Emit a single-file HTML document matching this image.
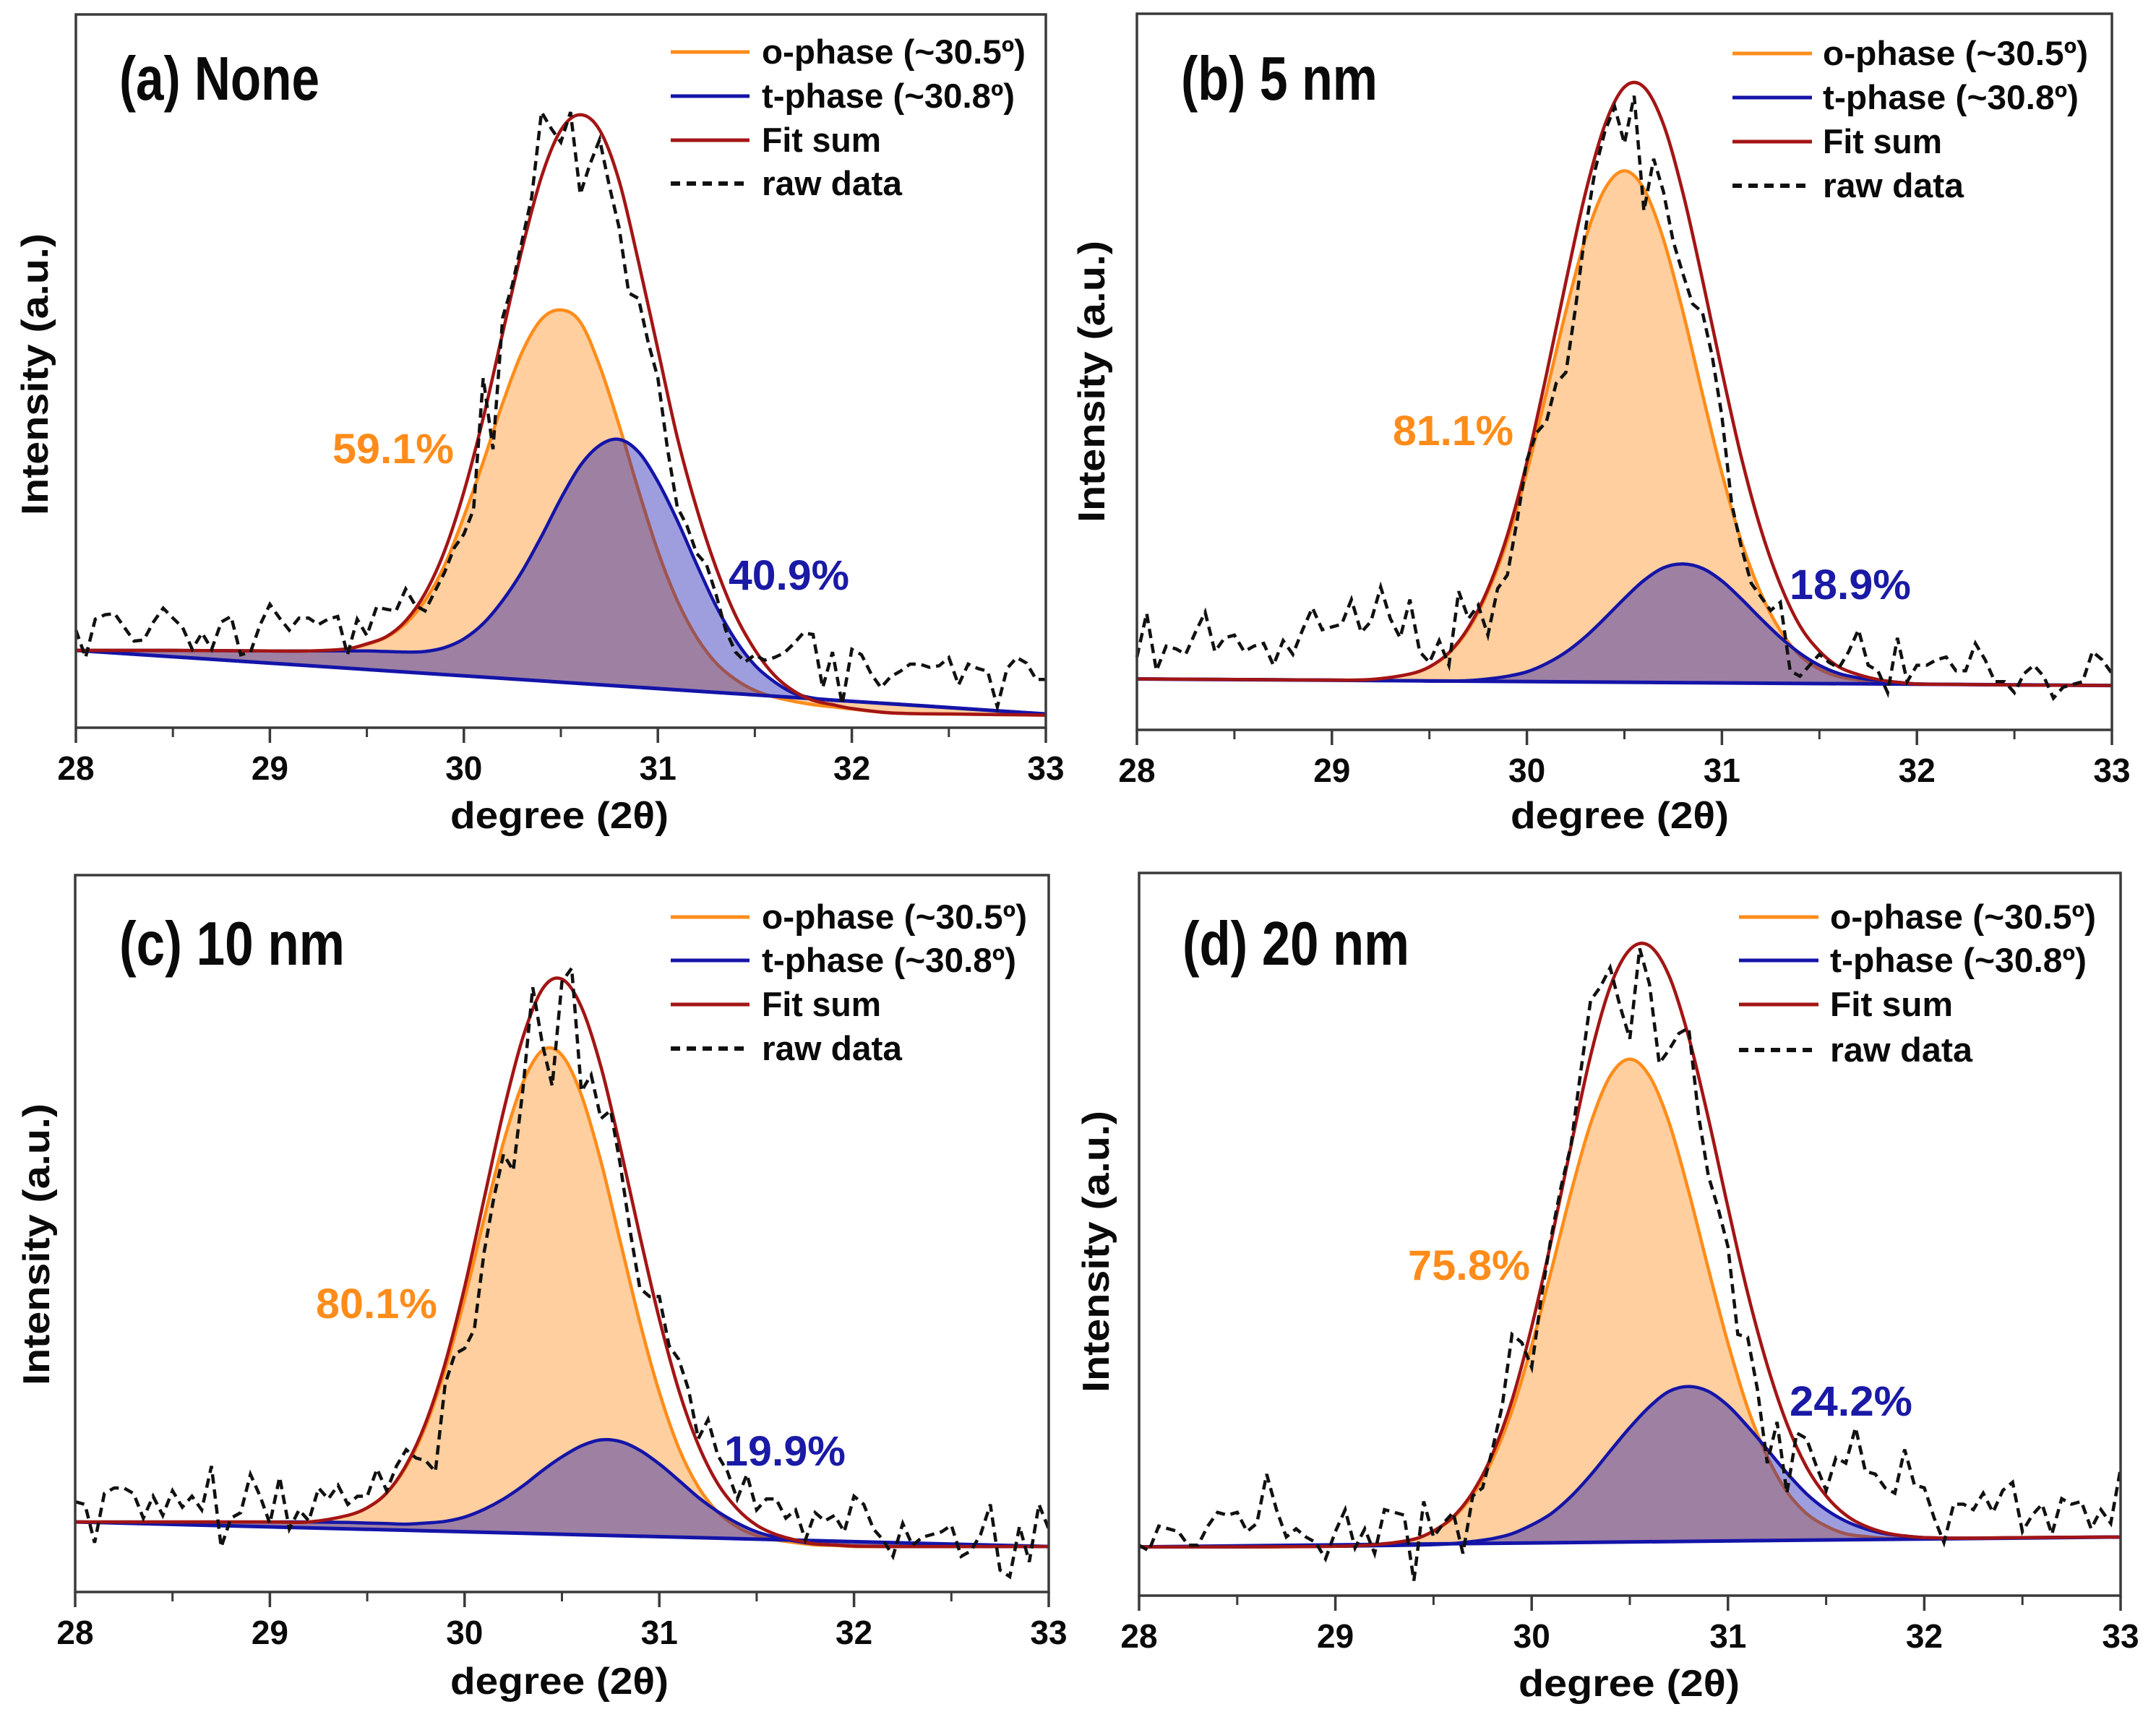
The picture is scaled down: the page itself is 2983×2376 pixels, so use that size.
<!DOCTYPE html>
<html lang="en">
<head>
<meta charset="utf-8">
<title>XRD peak deconvolution panels</title>
<style>
html,body{margin:0;padding:0;background:#fff;}
svg{display:block;}
text{font-family:"Liberation Sans","DejaVu Sans",sans-serif;fill:#0a0a0a;}
.leg{font-size:47px;font-weight:bold;}
.tit{font-size:52px;font-weight:bold;}
.pan{font-size:85px;font-weight:bold;}
.pct{font-size:58px;font-weight:bold;}
.o{fill:#ff8c1a;}
.t{fill:#1a1aa6;}
.tick{font-size:46px;font-weight:bold;text-anchor:middle;}
.lo{stroke:#ff8c1a;stroke-width:5;}
.lt{stroke:#1414a8;stroke-width:5;}
.ls{stroke:#a31515;stroke-width:5;}
.lr{stroke:#111;stroke-width:6;stroke-dasharray:13 9;}
</style>
</head>
<body>
<svg id="figure" xmlns="http://www.w3.org/2000/svg" width="2983" height="2376" viewBox="0 0 2983 2376">
<rect x="0" y="0" width="2983" height="2376" fill="#fff"/>

<g id="panel-a"></g>
<g id="panel-b"></g>
<g id="panel-c"></g>
<g id="panel-d"></g>

<g>
<text class="pan" x="165" y="138" textLength="277" lengthAdjust="spacingAndGlyphs">(a) None</text>
<text class="pct o" x="460" y="641" textLength="168" lengthAdjust="spacingAndGlyphs">59.1%</text>
<text class="pct t" x="1008" y="816" textLength="167" lengthAdjust="spacingAndGlyphs">40.9%</text>
<text class="tit" x="774" y="1146" text-anchor="middle" textLength="302" lengthAdjust="spacingAndGlyphs">degree (2θ)</text>
<text class="tit" transform="translate(66,518) rotate(-90)" text-anchor="middle" textLength="390" lengthAdjust="spacingAndGlyphs">Intensity (a.u.)</text>
<g>
<line class="lo" x1="928" y1="72" x2="1037" y2="72"/>
<line class="lt" x1="928" y1="133" x2="1037" y2="133"/>
<line class="ls" x1="928" y1="194" x2="1037" y2="194"/>
<line class="lr" x1="928" y1="254" x2="1030" y2="254"/>
<text class="leg" x="1054" y="88" textLength="365" lengthAdjust="spacingAndGlyphs">o-phase (~30.5º)</text>
<text class="leg" x="1054" y="149" textLength="350" lengthAdjust="spacingAndGlyphs">t-phase (~30.8º)</text>
<text class="leg" x="1054" y="210" textLength="165" lengthAdjust="spacingAndGlyphs">Fit sum</text>
<text class="leg" x="1054" y="270" textLength="194" lengthAdjust="spacingAndGlyphs">raw data</text>
</g>
</g>

<g>
<text class="pan" x="1634" y="138" textLength="272" lengthAdjust="spacingAndGlyphs">(b) 5 nm</text>
<text class="pct o" x="1927" y="616" textLength="167" lengthAdjust="spacingAndGlyphs">81.1%</text>
<text class="pct t" x="2476" y="829" textLength="168" lengthAdjust="spacingAndGlyphs">18.9%</text>
<text class="tit" x="2241" y="1146" text-anchor="middle" textLength="302" lengthAdjust="spacingAndGlyphs">degree (2θ)</text>
<text class="tit" transform="translate(1528,528) rotate(-90)" text-anchor="middle" textLength="390" lengthAdjust="spacingAndGlyphs">Intensity (a.u.)</text>
<g>
<line class="lo" x1="2397" y1="74" x2="2507" y2="74"/>
<line class="lt" x1="2397" y1="135" x2="2507" y2="135"/>
<line class="ls" x1="2397" y1="196" x2="2507" y2="196"/>
<line class="lr" x1="2397" y1="257" x2="2499" y2="257"/>
<text class="leg" x="2522" y="90" textLength="367" lengthAdjust="spacingAndGlyphs">o-phase (~30.5º)</text>
<text class="leg" x="2522" y="151" textLength="354" lengthAdjust="spacingAndGlyphs">t-phase (~30.8º)</text>
<text class="leg" x="2522" y="212" textLength="165" lengthAdjust="spacingAndGlyphs">Fit sum</text>
<text class="leg" x="2522" y="273" textLength="195" lengthAdjust="spacingAndGlyphs">raw data</text>
</g>
</g>

<g>
<text class="pan" x="165" y="1335" textLength="312" lengthAdjust="spacingAndGlyphs">(c) 10 nm</text>
<text class="pct o" x="437" y="1824" textLength="168" lengthAdjust="spacingAndGlyphs">80.1%</text>
<text class="pct t" x="1002" y="2028" textLength="168" lengthAdjust="spacingAndGlyphs">19.9%</text>
<text class="tit" x="774" y="2344" text-anchor="middle" textLength="302" lengthAdjust="spacingAndGlyphs">degree (2θ)</text>
<text class="tit" transform="translate(68,1722) rotate(-90)" text-anchor="middle" textLength="390" lengthAdjust="spacingAndGlyphs">Intensity (a.u.)</text>
<g>
<line class="lo" x1="928" y1="1269" x2="1037" y2="1269"/>
<line class="lt" x1="928" y1="1329" x2="1037" y2="1329"/>
<line class="ls" x1="928" y1="1390" x2="1037" y2="1390"/>
<line class="lr" x1="928" y1="1451" x2="1030" y2="1451"/>
<text class="leg" x="1054" y="1285" textLength="367" lengthAdjust="spacingAndGlyphs">o-phase (~30.5º)</text>
<text class="leg" x="1054" y="1345" textLength="352" lengthAdjust="spacingAndGlyphs">t-phase (~30.8º)</text>
<text class="leg" x="1054" y="1406" textLength="165" lengthAdjust="spacingAndGlyphs">Fit sum</text>
<text class="leg" x="1054" y="1467" textLength="194" lengthAdjust="spacingAndGlyphs">raw data</text>
</g>
</g>

<g>
<text class="pan" x="1636" y="1335" textLength="314" lengthAdjust="spacingAndGlyphs">(d) 20 nm</text>
<text class="pct o" x="1948" y="1771" textLength="169" lengthAdjust="spacingAndGlyphs">75.8%</text>
<text class="pct t" x="2476" y="1959" textLength="170" lengthAdjust="spacingAndGlyphs">24.2%</text>
<text class="tit" x="2254" y="2347" text-anchor="middle" textLength="306" lengthAdjust="spacingAndGlyphs">degree (2θ)</text>
<text class="tit" transform="translate(1534,1732) rotate(-90)" text-anchor="middle" textLength="390" lengthAdjust="spacingAndGlyphs">Intensity (a.u.)</text>
<g>
<line class="lo" x1="2406" y1="1269" x2="2516" y2="1269"/>
<line class="lt" x1="2406" y1="1329" x2="2516" y2="1329"/>
<line class="ls" x1="2406" y1="1390" x2="2516" y2="1390"/>
<line class="lr" x1="2406" y1="1453" x2="2508" y2="1453"/>
<text class="leg" x="2532" y="1285" textLength="368" lengthAdjust="spacingAndGlyphs">o-phase (~30.5º)</text>
<text class="leg" x="2532" y="1345" textLength="355" lengthAdjust="spacingAndGlyphs">t-phase (~30.8º)</text>
<text class="leg" x="2532" y="1406" textLength="170" lengthAdjust="spacingAndGlyphs">Fit sum</text>
<text class="leg" x="2532" y="1469" textLength="197" lengthAdjust="spacingAndGlyphs">raw data</text>
</g>
</g>
</svg>

<script>
// Shared axis data
var xTickLabels = [28, 29, 30, 31, 32, 33];
var xMinorTicks = [28.5, 29.5, 30.5, 31.5, 32.5];
var curveDegrees = [28,28.5,29,29.2,29.4,29.5,29.6,29.7,29.8,29.9,30,30.1,30.2,30.3,30.4,30.5,30.6,30.7,30.8,30.9,31,31.1,31.2,31.3,31.4,31.5,31.6,31.7,31.8,31.9,32,32.2,32.5,33];
var rawDegrees = [28,28.05,28.1,28.15,28.2,28.25,28.3,28.35,28.4,28.45,28.5,28.55,28.6,28.65,28.7,28.75,28.8,28.85,28.9,28.95,29,29.05,29.1,29.15,29.2,29.25,29.3,29.35,29.4,29.45,29.5,29.55,29.6,29.65,29.7,29.75,29.8,29.85,29.9,29.95,30,30.05,30.1,30.15,30.2,30.25,30.3,30.35,30.4,30.45,30.5,30.55,30.6,30.65,30.7,30.75,30.8,30.85,30.9,30.95,31,31.05,31.1,31.15,31.2,31.25,31.3,31.35,31.4,31.45,31.5,31.55,31.6,31.65,31.7,31.75,31.8,31.85,31.9,31.95,32,32.05,32.1,32.15,32.2,32.25,32.3,32.35,32.4,32.45,32.5,32.55,32.6,32.65,32.7,32.75,32.8,32.85,32.9,32.95,33];
var baselineDegrees = [28, 33];

// Panel (a) None
var aOPhase = [141,141,140,140,144,152,165,190,232,296,385,485,592,685,745,762,740,660,552,433,322,232,165,118,88,68,56,48,42,38,34,27,25,23];
var aTPhase = [141,141,140,140,140,140,139,138,139,146,162,190,232,285,349,418,478,515,526,503,449,378,298,222,160,114,84,63,54,50,48,44,37,25];
var aFitSum = [141,141,140,140,144,153,166,195,245,322,430,565,720,873,1005,1090,1118,1090,998,850,690,530,400,292,205,142,96,67,50,42,35,27,25,23];
var aBaseline = [141, 25];
var aRaw = [178,128,198,206,208,183,158,160,193,218,200,183,143,173,143,193,203,133,138,188,225,200,178,200,200,188,198,203,133,198,168,220,216,213,253,223,213,248,283,328,353,398,638,508,748,808,888,968,1123,1093,1068,1123,973,1028,1073,988,913,793,783,703,638,508,403,368,318,298,243,178,138,120,133,123,128,136,153,173,170,73,138,43,143,133,98,73,93,103,116,116,110,113,128,78,116,108,103,38,108,128,118,88,88];

// Panel (b) 5 nm
var bOPhase = [93,92,91,92,102,115,140,184,252,346,471,616,765,897,988,1021,988,896,764,614,469,344,249,181,136,111,97,91,86,84,83,83,82,81];
var bTPhase = [93,92,91,90,90,89,89,90,93,98,106,121,142,170,204,240,273,296,303,295,272,239,203,169,140,118,103,95,90,87,84,83,82,81];
var bFitSum = [93,92,91,92,102,115,141,187,257,356,489,649,819,980,1105,1174,1174,1106,981,823,655,497,366,265,190,144,115,101,92,87,84,83,82,81];
var bBaseline = [93, 81];
var bRaw = [133,213,108,153,148,138,178,215,143,168,173,143,153,158,118,163,138,183,223,183,188,193,238,178,198,261,203,168,238,143,123,163,118,253,203,228,173,258,283,383,493,543,563,633,653,773,913,1023,1093,1138,1071,1158,948,1043,983,893,833,778,763,683,573,413,333,268,243,218,233,108,98,118,138,123,113,143,183,118,108,68,168,88,118,118,128,133,108,108,158,128,88,88,68,103,118,98,58,78,83,88,143,128,103];

// Panel (c) 10 nm
var cOPhase = [128,128,128,128,140,154,181,229,303,407,536,682,822,931,990,981,908,787,640,493,365,263,192,146,119,103,95,90,86,85,83,83,83,83];
var cTPhase = [128,128,128,128,127,126,125,124,126,129,137,151,170,194,222,247,267,278,275,259,234,204,173,147,126,110,100,93,88,86,84,83,83,83];
var cFitSum = [128,128,128,128,140,154,181,232,309,418,557,718,879,1014,1102,1120,1069,960,812,651,499,369,269,198,152,122,105,95,88,86,84,83,83,83];
var cBaseline = [128, 83];
var cRaw = [165,160,90,180,190,190,180,135,175,140,185,155,175,150,230,82,135,145,215,175,125,210,115,150,130,190,170,195,160,175,175,225,185,230,260,245,240,220,380,435,445,480,620,720,800,770,920,1105,1000,925,1115,1140,915,945,865,880,780,660,555,540,540,450,425,370,280,315,250,220,170,215,150,170,170,135,150,95,145,130,140,110,175,160,115,95,65,125,85,100,105,110,122,65,75,105,160,40,28,120,55,160,115];

// Panel (d) 20 nm
var dOPhase = [89,89,90,93,103,118,142,184,248,338,457,594,736,862,949,980,949,864,738,597,461,343,254,190,150,127,113,108,105,104,104,105,106,107];
var dTPhase = [89,89,90,91,92,93,95,99,104,113,129,150,181,220,264,307,345,373,382,373,347,309,267,224,186,157,136,122,113,109,106,105,106,107];
var dFitSum = [89,89,90,93,103,118,144,189,258,357,491,649,821,986,1112,1180,1187,1132,1020,872,709,553,421,314,235,182,147,127,115,109,106,105,106,107];
var dBaseline = [89, 107];
var dRaw = [92,82,127,122,117,92,92,127,152,147,152,117,132,222,157,107,122,107,97,67,117,157,87,122,77,157,152,147,27,172,107,132,152,77,182,197,267,347,477,462,417,547,657,747,822,957,1087,1112,1147,1077,1017,1182,1117,972,997,1027,1037,877,767,707,637,477,472,377,242,317,187,297,287,237,192,252,242,307,227,222,197,187,267,202,197,142,97,167,167,157,187,152,192,207,117,147,167,112,177,167,172,122,157,132,232];

var NS = 'http://www.w3.org/2000/svg';
var X_MIN = 28, X_MAX = 33;

function mk(parent, tag) {
  var el = document.createElementNS(NS, tag);
  parent.appendChild(el);
  return el;
}

function hermite(xs, ys) {
  var n = xs.length, d = 'M' + xs[0].toFixed(1) + ' ' + ys[0].toFixed(1);
  function slope(i) {
    if (i === 0) return (ys[1] - ys[0]) / (xs[1] - xs[0]);
    if (i === n - 1) return (ys[n - 1] - ys[n - 2]) / (xs[n - 1] - xs[n - 2]);
    return (ys[i + 1] - ys[i - 1]) / (xs[i + 1] - xs[i - 1]);
  }
  for (var i = 0; i < n - 1; i++) {
    var h = (xs[i + 1] - xs[i]) / 3;
    d += 'C' + (xs[i] + h).toFixed(1) + ' ' + (ys[i] + slope(i) * h).toFixed(1) + ' ' +
         (xs[i + 1] - h).toFixed(1) + ' ' + (ys[i + 1] - slope(i + 1) * h).toFixed(1) + ' ' +
         xs[i + 1].toFixed(1) + ' ' + ys[i + 1].toFixed(1);
  }
  return d;
}

function drawPanel(id, box, oPhase, tPhase, fitSum, baseline, raw) {
  var g = document.getElementById(id);
  var sx = function (deg) { return box.left + (deg - X_MIN) / (X_MAX - X_MIN) * (box.right - box.left); };
  var sy = function (v) { return box.bottom - v / box.yMax * (box.bottom - box.top); };
  var cx = curveDegrees.map(sx);
  var baseAt = function (deg) {
    var t = (deg - baselineDegrees[0]) / (baselineDegrees[1] - baselineDegrees[0]);
    return baseline[0] + t * (baseline[1] - baseline[0]);
  };
  var closeToBase = 'L' + sx(X_MAX) + ' ' + sy(baseAt(X_MAX)) + 'L' + sx(X_MIN) + ' ' + sy(baseAt(X_MIN)) + 'Z';

  var oPath = hermite(cx, oPhase.map(sy));
  var tPath = hermite(cx, tPhase.map(sy));
  var sPath = hermite(cx, fitSum.map(sy));

  var oFill = mk(g, 'path');
  
  
  oFill.setAttribute('d', oPath + closeToBase);
  oFill.setAttribute('fill', '#ffcf9f');

  var oLine = mk(g, 'path');
  
  
  oLine.setAttribute('d', oPath);
  oLine.setAttribute('fill', 'none');
  oLine.setAttribute('stroke', '#ff8c1a');
  oLine.setAttribute('stroke-width', '4.5');

  var tFill = mk(g, 'path');
  
  
  tFill.setAttribute('d', tPath + closeToBase);
  tFill.setAttribute('fill', '#0000aa');
  tFill.setAttribute('fill-opacity', '0.38');

  var tLine = mk(g, 'path');
  
  
  tLine.setAttribute('d', tPath);
  tLine.setAttribute('fill', 'none');
  tLine.setAttribute('stroke', '#1414a8');
  tLine.setAttribute('stroke-width', '4.5');

  var base = mk(g, 'line');
  
  
  base.setAttribute('x1', sx(baselineDegrees[0]));
  base.setAttribute('y1', sy(baseline[0]));
  base.setAttribute('x2', sx(baselineDegrees[1]));
  base.setAttribute('y2', sy(baseline[1]));
  base.setAttribute('stroke', '#1414a8');
  base.setAttribute('stroke-width', '5');

  var sLine = mk(g, 'path');
  
  
  sLine.setAttribute('d', sPath);
  sLine.setAttribute('fill', 'none');
  sLine.setAttribute('stroke', '#a31515');
  sLine.setAttribute('stroke-width', '4.5');

  var rawLine = mk(g, 'polyline');
  
  
  rawLine.setAttribute('points', raw.map(function (v, i) { return sx(rawDegrees[i]).toFixed(1) + ',' + sy(v).toFixed(1); }).join(' '));
  rawLine.setAttribute('fill', 'none');
  rawLine.setAttribute('stroke', '#111');
  rawLine.setAttribute('stroke-width', '4.5');
  rawLine.setAttribute('stroke-dasharray', '13 8');

  var frame = mk(g, 'rect');
  
  
  frame.setAttribute('x', box.left);
  frame.setAttribute('y', box.top);
  frame.setAttribute('width', box.right - box.left);
  frame.setAttribute('height', box.bottom - box.top);
  frame.setAttribute('fill', 'none');
  frame.setAttribute('stroke', '#3a3a3a');
  frame.setAttribute('stroke-width', '3.5');

  xTickLabels.forEach(function (deg) {
    var tick = mk(g, 'line');
    
    
    tick.setAttribute('x1', sx(deg));
    tick.setAttribute('x2', sx(deg));
    tick.setAttribute('y1', box.bottom);
    tick.setAttribute('y2', box.bottom + 21);
    tick.setAttribute('stroke', '#3a3a3a');
    tick.setAttribute('stroke-width', '3.5');

    var label = mk(g, 'text');
    
    
    label.setAttribute('class', 'tick');
    label.setAttribute('x', sx(deg));
    label.setAttribute('y', box.bottom + 72);
    label.textContent = String(deg);
  });

  xMinorTicks.forEach(function (deg) {
    var minor = mk(g, 'line');
    
    
    minor.setAttribute('x1', sx(deg));
    minor.setAttribute('x2', sx(deg));
    minor.setAttribute('y1', box.bottom);
    minor.setAttribute('y2', box.bottom + 13);
    minor.setAttribute('stroke', '#3a3a3a');
    minor.setAttribute('stroke-width', '3');
  });
}

drawPanel('panel-a', {left: 105, right: 1447, top: 20, bottom: 1007, yMax: 1301}, aOPhase, aTPhase, aFitSum, aBaseline, aRaw);
drawPanel('panel-b', {left: 1573, right: 2922, top: 19, bottom: 1010, yMax: 1308}, bOPhase, bTPhase, bFitSum, bBaseline, bRaw);
drawPanel('panel-c', {left: 104, right: 1451, top: 1211, bottom: 2203, yMax: 1310}, cOPhase, cTPhase, cFitSum, cBaseline, cRaw);
drawPanel('panel-d', {left: 1576, right: 2934, top: 1208, bottom: 2208, yMax: 1320}, dOPhase, dTPhase, dFitSum, dBaseline, dRaw);
</script>
</body>
</html>
